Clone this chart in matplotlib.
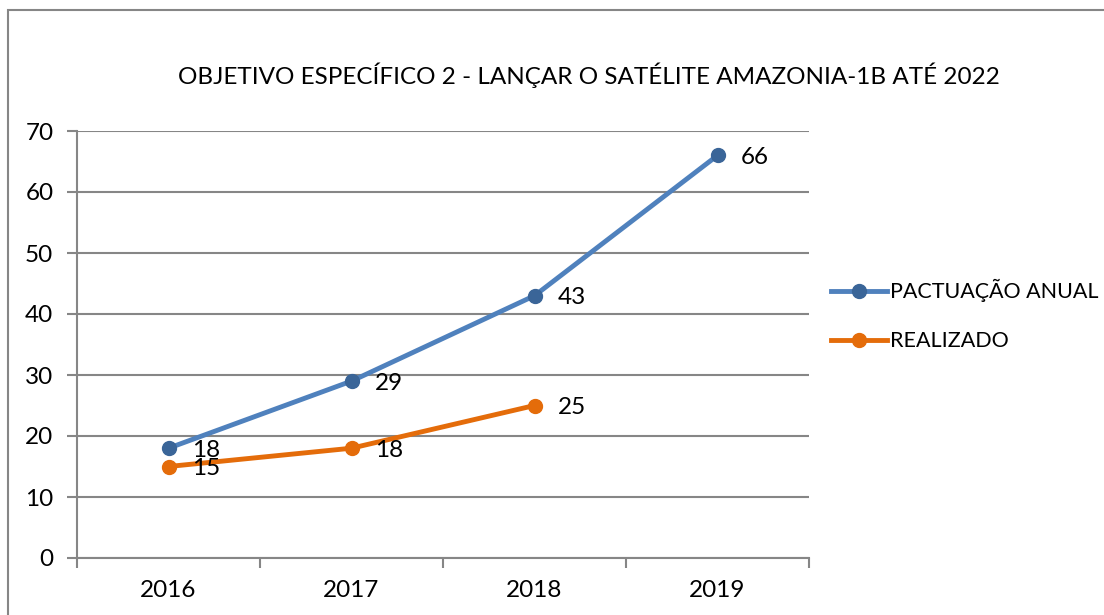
import numpy as np
import matplotlib.pyplot as plt
from matplotlib.patches import Rectangle

# dados
anos = ['2016', '2017', '2018', '2019']
pactuacao = [18, 29, 43, 66]
realizado = [15, 18, 25]
titulo = 'OBJETIVO ESPECÍFICO 2 - LANÇAR O SATÉLITE AMAZONIA-1B ATÉ 2022'

plt.rcParams['font.family'] = ['Lato', 'DejaVu Sans']
fs = 17.5

fig = plt.figure(figsize=(11.04, 6.15), dpi=100)
ax = fig.add_axes([77 / 1104, 1 - 558 / 615, (809 - 77) / 1104, (558 - 131) / 615])

x = np.arange(len(anos))
ax.plot(x, pactuacao, color='#4F81BD', lw=3.5, marker='o', ms=10,
        mfc='#3A6598', mec='#3A6598', label='PACTUAÇÃO ANUAL', zorder=3)
ax.plot(x[:len(realizado)], realizado, color='#E46C0A', lw=3.5, marker='o', ms=10,
        mfc='#E46C0A', mec='#E46C0A', label='REALIZADO', zorder=3)

for xi, v in zip(x, pactuacao):
    ax.annotate(str(v), (xi, v), xytext=(17, -1.5), textcoords='offset points',
                ha='left', va='center', fontsize=fs)
for xi, v in zip(x, realizado):
    ax.annotate(str(v), (xi, v), xytext=(17, -1.5), textcoords='offset points',
                ha='left', va='center', fontsize=fs)

ax.set_xlim(-0.5, len(anos) - 0.5)
ax.set_ylim(0, 70)
ax.set_yticks(range(0, 71, 10))
ax.set_xticks(x)
ax.set_xticklabels(anos)
ax.set_xticks(np.arange(-0.5, len(anos), 1), minor=True)
ax.tick_params(axis='x', which='major', length=0, pad=16, labelsize=fs)
ax.tick_params(axis='x', which='minor', length=7, width=1.5, color='#868686')
ax.tick_params(axis='y', length=7, width=1.5, color='#868686', pad=10, labelsize=fs)
ax.grid(axis='y', color='#868686', lw=1.5)
ax.set_axisbelow(True)
for s in ['top', 'right']:
    ax.spines[s].set_visible(False)
for s in ['left', 'bottom']:
    ax.spines[s].set_color('#868686')
    ax.spines[s].set_linewidth(1.5)

fig.text(589 / 1104, 1 - 75 / 615, titulo, ha='center', va='center', fontsize=fs)

leg = fig.legend(loc='center left', bbox_to_anchor=(812 / 1104, 1 - 315 / 615),
                 frameon=False, fontsize=15.5, handlelength=2.6, handletextpad=0.1,
                 labelspacing=1.35)

fig.patches.append(Rectangle((8 / 1104, -0.1), 1.2, 1 - 10 / 615 + 0.1,
                             transform=fig.transFigure, fill=False,
                             edgecolor='#868686', lw=1.5, clip_on=False))

fig.savefig('out.png', dpi=100)
